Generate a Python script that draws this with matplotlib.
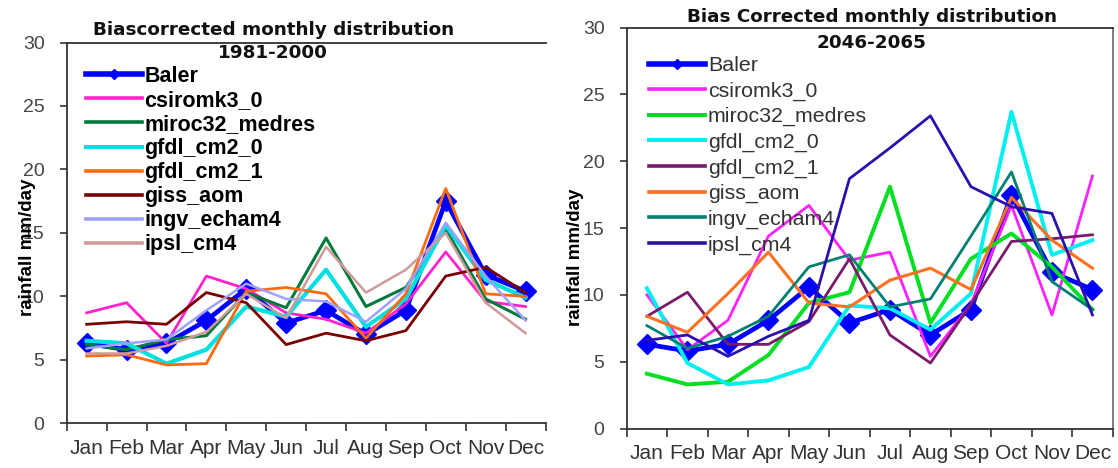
import numpy as np
import matplotlib
matplotlib.use("Agg")
import matplotlib.pyplot as plt
from matplotlib.lines import Line2D

plt.rcParams['font.family'] = ['Liberation Sans', 'DejaVu Sans']

months = ["Jan", "Feb", "Mar", "Apr", "May", "Jun",
          "Jul", "Aug", "Sep", "Oct", "Nov", "Dec"]

# Observed station rainfall (mm/day)
baler = [6.3, 5.8, 6.3, 8.1, 10.6, 7.9, 8.9, 7.0, 8.9, 17.5, 11.7, 10.4]

# Bias-corrected GCM output, 1981-2000
base_csiromk3_0 = [8.7, 9.5, 6.3, 11.6, 10.6, 8.7, 8.2, 7.1, 9.4, 13.5, 9.6, 9.2]
base_miroc32_medres = [6.2, 5.8, 6.6, 6.9, 10.3, 9.1, 14.6, 9.2, 10.7, 15.3, 9.8, 8.2]
base_gfdl_cm2_0 = [6.5, 6.3, 4.7, 5.8, 9.2, 8.4, 12.1, 7.6, 9.8, 15.6, 11.3, 9.9]
base_gfdl_cm2_1 = [5.3, 5.4, 4.6, 4.7, 10.4, 10.7, 10.2, 6.7, 10.2, 18.5, 10.2, 10.0]
base_giss_aom = [7.8, 8.0, 7.8, 10.3, 9.5, 6.2, 7.1, 6.5, 7.3, 11.6, 12.3, 10.3]
base_ingv_echam4 = [5.9, 6.3, 6.6, 8.9, 11.0, 9.8, 9.6, 8.0, 10.6, 15.8, 11.6, 8.1]
base_ipsl_cm4 = [5.5, 5.5, 6.1, 7.2, 10.2, 8.3, 13.9, 10.3, 12.1, 15.0, 9.5, 7.1]

# Bias-corrected GCM projections, 2046-2065
fut_csiromk3_0 = [10.0, 5.9, 8.1, 14.4, 16.7, 12.6, 13.2, 5.4, 9.3, 16.7, 8.5, 18.9]
fut_miroc32_medres = [4.1, 3.3, 3.5, 5.5, 9.4, 10.2, 18.1, 7.9, 12.7, 14.6, 12.1, 8.9]
fut_gfdl_cm2_0 = [10.5, 4.9, 3.3, 3.6, 4.6, 9.2, 9.0, 7.4, 10.1, 23.7, 13.0, 14.1]
fut_gfdl_cm2_1 = [8.4, 10.2, 6.3, 6.3, 8.0, 12.7, 7.0, 4.9, 9.3, 14.0, 14.2, 14.5]
fut_giss_aom = [8.4, 7.2, 10.1, 13.2, 9.4, 9.1, 11.1, 12.0, 10.4, 17.3, 14.1, 12.0]
fut_ingv_echam4 = [7.7, 6.0, 6.9, 8.4, 12.1, 13.0, 9.1, 9.7, 14.4, 19.2, 11.0, 8.9]
fut_ipsl_cm4 = [6.6, 7.0, 5.4, 6.9, 8.1, 18.7, 21.0, 23.4, 18.1, 16.6, 16.1, 8.5]

model_names = ["csiromk3_0", "miroc32_medres", "gfdl_cm2_0", "gfdl_cm2_1",
               "giss_aom", "ingv_echam4", "ipsl_cm4"]

base_series = [base_csiromk3_0, base_miroc32_medres, base_gfdl_cm2_0,
               base_gfdl_cm2_1, base_giss_aom, base_ingv_echam4, base_ipsl_cm4]
fut_series = [fut_csiromk3_0, fut_miroc32_medres, fut_gfdl_cm2_0,
              fut_gfdl_cm2_1, fut_giss_aom, fut_ingv_echam4, fut_ipsl_cm4]

base_styles = [("#ff22cc", 2.0), ("#007a3a", 2.2), ("#00e0e0", 3.0),
               ("#ff6a10", 2.0), ("#7a0000", 2.0), ("#a0a0ff", 1.8),
               ("#d09a9a", 1.8)]
fut_styles = [("#ff20ff", 2.0), ("#00e020", 2.8), ("#00f0f0", 2.8),
              ("#7a1a6a", 2.0), ("#ff7020", 2.2), ("#008070", 2.0),
              ("#2a10b0", 2.0)]

TITLE_FONT = dict(family="DejaVu Sans", fontsize=13.2, fontweight="bold",
                  color="#111111")

W, H = 1118, 468
fig = plt.figure(figsize=(W / 100, H / 100), dpi=100, facecolor="white")


def rect(x0, y0, x1, y1):
    return [x0 / W, 1 - y1 / H, (x1 - x0) / W, (y1 - y0) / H]


def fx(x):
    return x / W


def fy(y):
    return 1 - y / H


x = np.arange(len(months))


def draw_panel(ax, series, styles, show_right):
    ax.plot(x, baler, color="#0000ff", lw=3.4, marker="D", ms=10,
            zorder=2, solid_joinstyle="round")
    for vals, (col, lw) in zip(series, styles):
        ax.plot(x, vals, color=col, lw=lw, zorder=3)
    ax.set_xlim(-0.5, 11.5)
    ax.set_ylim(0, 30)
    ax.set_yticks(np.arange(0, 31, 5))
    ax.set_xticks(np.arange(-0.5, 12, 1))
    ax.set_xticklabels([])
    ax.set_xticks(x, minor=True)
    ax.set_xticklabels(months, minor=True)
    ax.tick_params(axis="x", which="major", direction="out", length=6,
                   width=1.2, color="#333333")
    ax.tick_params(axis="x", which="minor", length=0, pad=11,
                   labelsize=15, labelcolor="#333333")
    ax.tick_params(axis="y", direction="out", length=5, width=1.2,
                   color="#333333", pad=11, labelsize=14,
                   labelcolor="#444444")
    for s in ["left", "bottom", "top"]:
        ax.spines[s].set_color("#333333")
        ax.spines[s].set_linewidth(1.3)
    ax.spines["right"].set_visible(show_right)
    ax.spines["right"].set_color("#666666")
    ax.spines["right"].set_linewidth(1.2)
    ax.set_facecolor("white")


def make_handles(styles, base_lw):
    hs = [Line2D([], [], color="#0000ff", lw=4.0, marker="D", ms=5)]
    for col, lw in styles:
        hs.append(Line2D([], [], color=col, lw=base_lw + 0.3 * (lw > 2.5)))
    return hs


# 1981-2000 panel
ax1 = fig.add_axes(rect(66.7, 42.5, 545.5, 423.3))
draw_panel(ax1, base_series, base_styles, show_right=False)
ax1.legend(make_handles(base_styles, 2.6), ["Baler"] + model_names,
           loc="upper left", bbox_to_anchor=(fx(86), fy(66)),
           bbox_transform=fig.transFigure, frameon=False,
           prop={"size": 15.5, "weight": "bold"}, handlelength=2.6,
           handletextpad=0.1, labelspacing=0.14, borderpad=0,
           borderaxespad=0)
fig.text(fx(274), fy(30), "Biascorrected monthly distribution",
         ha="center", va="center", **TITLE_FONT)
fig.text(fx(273), fy(53), "1981-2000", ha="center", va="center",
         **TITLE_FONT)
fig.text(fx(27), fy(247), "rainfall mm/day", rotation=90, ha="center",
         va="center", fontsize=13.5, fontweight="bold")

# 2046-2065 panel
ax2 = fig.add_axes(rect(626.7, 27.7, 1112.7, 428.5))
draw_panel(ax2, fut_series, fut_styles, show_right=True)
ax2.legend(make_handles(fut_styles, 2.6), ["Baler"] + model_names,
           loc="upper left", bbox_to_anchor=(fx(649), fy(56)),
           bbox_transform=fig.transFigure, frameon=False,
           prop={"size": 15.4}, handlelength=2.6,
           handletextpad=0.15, labelspacing=0.3, borderpad=0,
           borderaxespad=0, labelcolor="#333333")
fig.text(fx(872), fy(17), "Bias Corrected monthly distribution",
         ha="center", va="center", **TITLE_FONT)
fig.text(fx(871), fy(43), "2046-2065", ha="center", va="center",
         **TITLE_FONT)
fig.text(fx(575), fy(257), "rainfall mm/day", rotation=90, ha="center",
         va="center", fontsize=13.5, fontweight="bold")

fig.savefig("out.png", dpi=100, facecolor="white")
